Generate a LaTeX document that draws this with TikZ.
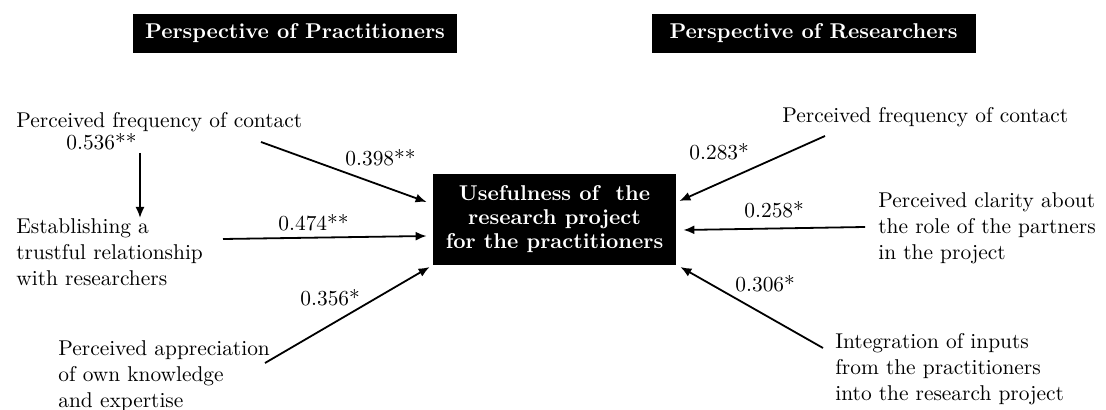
\documentclass[tikz,border=0pt]{standalone}
\usepackage{fontspec}
\usetikzlibrary{arrows.meta,calc}
\begin{document}
\begin{tikzpicture}[x=0.5pt,y=-0.5pt,
  every node/.style={font=\fontsize{10.7pt}{13pt}\selectfont},
  txt/.style={inner sep=0pt, align=left, anchor=north west},
  coef/.style={inner sep=0pt, anchor=base west},
  header/.style={fill=black, text=white,
    font=\fontsize{10.7pt}{13pt}\selectfont\bfseries,
    minimum width=162pt, minimum height=19.5pt, inner sep=0pt},
  target/.style={fill=black, text=white, align=center,
    font=\fontsize{10.7pt}{12pt}\selectfont\bfseries,
    minimum width=121.5pt, minimum height=45.5pt, inner sep=0pt},
  arr/.style={line width=0.9pt, -{Latex[length=5.5pt,width=4.5pt]}}
]
\useasboundingbox (0,0) rectangle (1106,410);

% column headers
\node[header] (hp) at (295,33.5) {Perspective of Practitioners};
\node[header] (hr) at (813.5,33.5) {Perspective of Researchers};

% central outcome
\node[target] (use) at (554.5,219.5)
  {Usefulness of\ \ the\\research project\\for the practitioners};

% practitioners' side
\node[txt] (lfreq) at (16,112) {Perceived frequency of contact};
\node[coef] (l536) at (66,150) {0.536**};
\node[txt] (est) at (16,218) {Establishing a\\trustful relationship\\with researchers};
\node[txt] (app) at (58,340) {Perceived appreciation\\of own knowledge\\and expertise};

% researchers' side
\node[txt] (rfreq) at (782,107) {Perceived frequency of contact};
\node[txt] (clar) at (878,192) {Perceived clarity about\\the role of the partners\\in the project};
\node[txt] (integ) at (835,333) {Integration of inputs\\from the practitioners\\into the research project};

% path coefficients
\node[coef] (l398) at (345,166) {0.398**};
\node[coef] (l474) at (278,231) {0.474**};
\node[coef] (l356) at (300,306) {0.356*};
\node[coef] (l283) at (689,160) {0.283*};
\node[coef] (l258) at (744,218) {0.258*};
\node[coef] (l306) at (735,292) {0.306*};

% free ends of the paths
\coordinate (s536) at (140,153);
\coordinate (s398) at (261,142);
\coordinate (s474) at (223,239);
\coordinate (s356) at (265,363);
\coordinate (s283) at (825,136);
\coordinate (s258) at (865,227);
\coordinate (s306) at (823,348);

% paths
\draw[arr] (s536) -- (s536 |- est.north);
\draw[arr] (s398) -- ([shift={(-6,-17.5)}]use.west);
\draw[arr] (s474) -- ([shift={(-6,16.5)}]use.west);
\draw[arr] (s356) -- ([shift={(-3,47.5)}]use.west);
\draw[arr] (s283) -- ([shift={(3,-18.5)}]use.east);
\draw[arr] (s258) -- ([shift={(7,10.5)}]use.east);
\draw[arr] (s306) -- ([shift={(4,47.5)}]use.east);
\end{tikzpicture}
\end{document}
